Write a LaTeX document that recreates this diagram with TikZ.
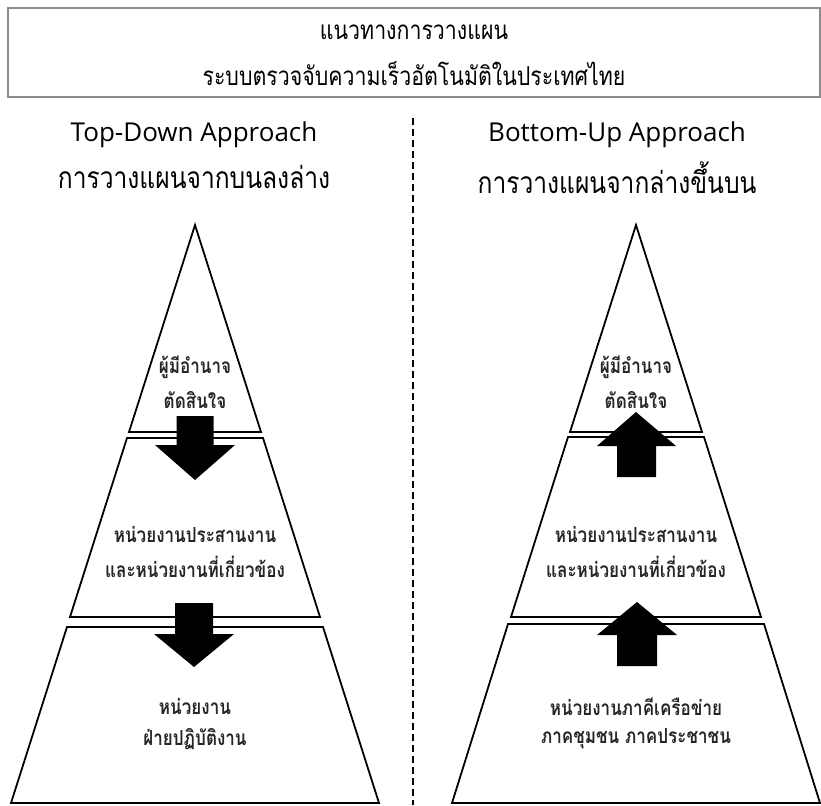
\documentclass[tikz,border=0pt]{standalone}
\usepackage{fontspec}
\newfontfamily\thai[Script=Thai, FakeStretch=0.82]{Loma}
\newfontfamily\latinhead{Open Sans}
\tikzset{
  pyr/.style={draw=black, line width=1.8pt, line join=miter, fill=white},
  blockarrow/.style={fill=black, draw=none},
  body/.style={font=\thai\bfseries\fontsize{20.8}{24}\selectfont, align=center, inner sep=0pt, text=black!85},
  head/.style={font=\thai\fontsize{30}{34}\selectfont, inner sep=0pt},
  lhead/.style={font=\latinhead\fontsize{26}{30}\selectfont, inner sep=0pt},
  titletext/.style={font=\thai\fontsize{26}{30}\selectfont, inner sep=0pt},
}
\begin{document}
\begin{tikzpicture}[x=1pt,y=-1pt]
\useasboundingbox (0,0) rectangle (821,805);
% title box
\draw[draw=black!45, line width=1.5pt] (8,8) rectangle (820,97);
\node[titletext] (t1) at (414,32) {แนวทางการวางแผน};
\node[titletext] (t2) at (414,74) {ระบบตรวจจับความเร็วอัตโนมัติในประเทศไทย};
% divider
\draw[line width=1.2pt, dash pattern=on 7pt off 4pt] (413,118) -- (413,805);
% headings
\node[lhead] (lh1) at (194,135) {Top-Down Approach};
\node[head] (lh2) at (194,177) {การวางแผนจากบนลงล่าง};
\node[lhead] (rh1) at (617,135) {Bottom-Up Approach};
\node[head] (rh2) at (617,178) {การวางแผนจากล่างขึ้นบน};
% pyramids
\foreach \cx/\tb/\tc in {195/438/627, 636/437/624}{
  \draw[pyr] (\cx,225) -- (\cx-66,432) -- (\cx+66,432) -- cycle;
  \draw[pyr] (\cx-68,\tb) -- (\cx+68,\tb) -- (\cx+125,617) -- (\cx-125,617) -- cycle;
  \draw[pyr] (\cx-128,\tc) -- (\cx+128,\tc) -- (\cx+184,803) -- (\cx-184,803) -- cycle;
}
% left arrows (down)
\fill[blockarrow] (176.5,416) -- (213.5,416) -- (213.5,445) -- (235,445) -- (195,480) -- (155,445) -- (176.5,445) -- cycle;
\fill[blockarrow] (175,603) -- (213,603) -- (213,634) -- (234,634) -- (194,667) -- (154,634) -- (175,634) -- cycle;
% right arrows (up)
\fill[blockarrow] (617,477) -- (656,477) -- (656,446) -- (676,446) -- (636,412) -- (597,446) -- (617,446) -- cycle;
\fill[blockarrow] (617,666) -- (657,666) -- (657,635) -- (677,635) -- (637,602) -- (597,635) -- (617,635) -- cycle;
% texts left
\node[body] (la1) at (195,367) {ผู้มีอำนาจ};
\node[body] (la2) at (195,400) {ตัดสินใจ};
\node[body] (lb1) at (195,534) {หน่วยงานประสานงาน};
\node[body] (lb2) at (195,567) {และหน่วยงานที่เกี่ยวข้อง};
\node[body] (lc1) at (195,706) {หน่วยงาน};
\node[body] (lc2) at (195,739) {ฝ่ายปฏิบัติงาน};
% texts right
\node[body] (ra1) at (636,367) {ผู้มีอำนาจ};
\node[body] (ra2) at (636,400) {ตัดสินใจ};
\node[body] (rb1) at (636,534) {หน่วยงานประสานงาน};
\node[body] (rb2) at (636,567) {และหน่วยงานที่เกี่ยวข้อง};
\node[body] (rc1) at (636,707) {หน่วยงานภาคีเครือข่าย};
\node[body] (rc2) at (636,739) {ภาคชุมชน ภาคประชาชน};
\end{tikzpicture}
\end{document}
